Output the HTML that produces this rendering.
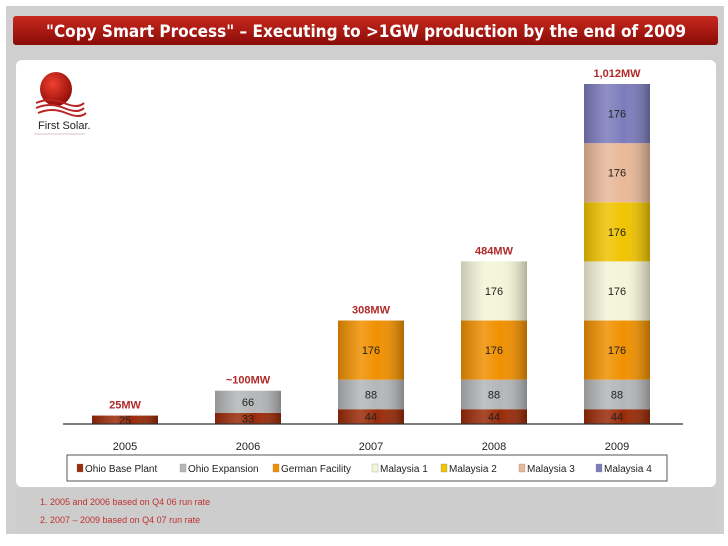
<!DOCTYPE html>
<html><head><meta charset="utf-8"><style>
html,body{margin:0;padding:0;width:728px;height:546px;overflow:hidden;background:#fff;font-family:"Liberation Sans",sans-serif}
</style></head><body>
<svg width="728" height="546" viewBox="0 0 728 546" xmlns="http://www.w3.org/2000/svg">
<defs>
<linearGradient id="title" x1="0" y1="0" x2="0" y2="1"><stop offset="0" stop-color="#c8281e"/><stop offset="1" stop-color="#8a0c08"/></linearGradient>
<linearGradient id="cyl" x1="0" y1="0" x2="1" y2="0"><stop offset="0" stop-color="#000" stop-opacity="0.18"/><stop offset="0.35" stop-color="#fff" stop-opacity="0.15"/><stop offset="0.6" stop-color="#fff" stop-opacity="0"/><stop offset="1" stop-color="#000" stop-opacity="0.28"/></linearGradient>
<radialGradient id="sun" cx="0.4" cy="0.35" r="0.7"><stop offset="0" stop-color="#f04030"/><stop offset="1" stop-color="#8a0a05"/></radialGradient>
</defs>
<rect x="0" y="0" width="728" height="546" fill="#fff"/>
<rect x="6" y="6" width="718" height="528" fill="#cfcfcf"/>
<rect x="13" y="16" width="705" height="29" rx="3" fill="url(#title)"/>
<text x="366" y="37" text-anchor="middle" font-size="17" font-weight="bold" fill="#fff" font-family="'DejaVu Sans Condensed','Liberation Sans',sans-serif" textLength="640" lengthAdjust="spacingAndGlyphs">"Copy Smart Process" – Executing to &gt;1GW production by the  end of 2009</text>
<rect x="16" y="60" width="700" height="427" rx="6" fill="#fff"/>
<g>
<ellipse cx="56" cy="89" rx="16" ry="17" fill="url(#sun)"/>
<path d="M36 103 q14 -6 28 0 t20 0" stroke="#b22" stroke-width="2" fill="none"/>
<path d="M36 108 q14 -6 28 0 t20 0" stroke="#b22" stroke-width="2" fill="none"/>
<path d="M38 113 q14 -6 28 0 t20 0" stroke="#b22" stroke-width="2" fill="none"/>
<text x="38" y="129" font-size="11" fill="#222">First Solar.</text>
<line x1="34" y1="134" x2="85" y2="134" stroke="#e0c0c0"/>
</g>
<g id="bars"></g>
<line x1="63" y1="424" x2="683" y2="424" stroke="#333" stroke-width="1.2"/>
<rect x="67" y="455" width="600" height="26" fill="#fff" stroke="#555"/>
<g id="legend"></g>
<rect x="16" y="489" width="700" height="42" fill="#cdcdcd"/>
<text x="40" y="505" font-size="9" fill="#c03030">1.    2005 and 2006 based on Q4 06 run rate</text>
<text x="40" y="523" font-size="9" fill="#c03030">2.    2007 – 2009 based on Q4 07 run rate</text>
</svg>
<script>
const years = ["2005","2006","2007","2008","2009"];
const totals = ["25MW","~100MW","308MW","484MW","1,012MW"];
const seriesNames = ["Ohio Base Plant","Ohio Expansion","German Facility","Malaysia 1","Malaysia 2","Malaysia 3","Malaysia 4"];
const ohioBase = [25,33,44,44,44];
const ohioExp = [0,66,88,88,88];
const german = [0,0,176,176,176];
const malaysia1 = [0,0,0,176,176];
const malaysia2 = [0,0,0,0,176];
const malaysia3 = [0,0,0,0,176];
const malaysia4 = [0,0,0,0,176];
const series = [ohioBase,ohioExp,german,malaysia1,malaysia2,malaysia3,malaysia4];
const colors = ["#9a2a08","#b4b6b8","#f09000","#f4f4d8","#f0c400","#e8b898","#7c7cbc"];
const NS="http://www.w3.org/2000/svg";
const baseY=424, pxPer=340/1012, x0=125, step=123, bw=66;
const yS=v=>v*pxPer, xC=i=>x0+i*step;
const g=document.getElementById('bars');
function mk(t,a){const e=document.createElementNS(NS,t);for(const k in a)e.setAttribute(k,a[k]);return e;}
years.forEach((yr,i)=>{
  let acc=0;
  series.forEach((s,j)=>{
    const v=s[i]; if(!v) return;
    const y=baseY-yS(acc+v), h=yS(v);
    const r=mk('rect',{x:xC(i)-bw/2,y:y,width:bw,height:h,fill:colors[j]});
    
    
    g.appendChild(r);
    const sh=mk('rect',{x:xC(i)-bw/2,y:y,width:bw,height:h,fill:'url(#cyl)'});
    
    
    g.appendChild(sh);
    const t=mk('text',{x:xC(i),y:y+h/2+4,'text-anchor':'middle','font-size':11,fill:'#222'});
    t.textContent=v;
    
    
    g.appendChild(t);
    acc+=v;
  });
  const tt=mk('text',{x:xC(i),y:baseY-yS(acc)-7,'text-anchor':'middle','font-size':11,'font-weight':'bold',fill:'#b02a2a'});
  tt.textContent=totals[i];
  
  
  g.appendChild(tt);
  const yl=mk('text',{x:xC(i),y:450,'text-anchor':'middle','font-size':11,fill:'#222'});
  yl.textContent=yr;
  
  
  g.appendChild(yl);
});
const lg=document.getElementById('legend');
const lx=[77,180,273,372,441,519,596];
seriesNames.forEach((n,j)=>{
  const sw=mk('rect',{x:lx[j],y:464,width:6,height:8,fill:colors[j],stroke:'#888','stroke-width':0.3});
  
  
  lg.appendChild(sw);
  const t=mk('text',{x:lx[j]+8,y:472,'font-size':10,fill:'#222'});
  t.textContent=n;
  
  
  lg.appendChild(t);
});
</script>
</body></html>
